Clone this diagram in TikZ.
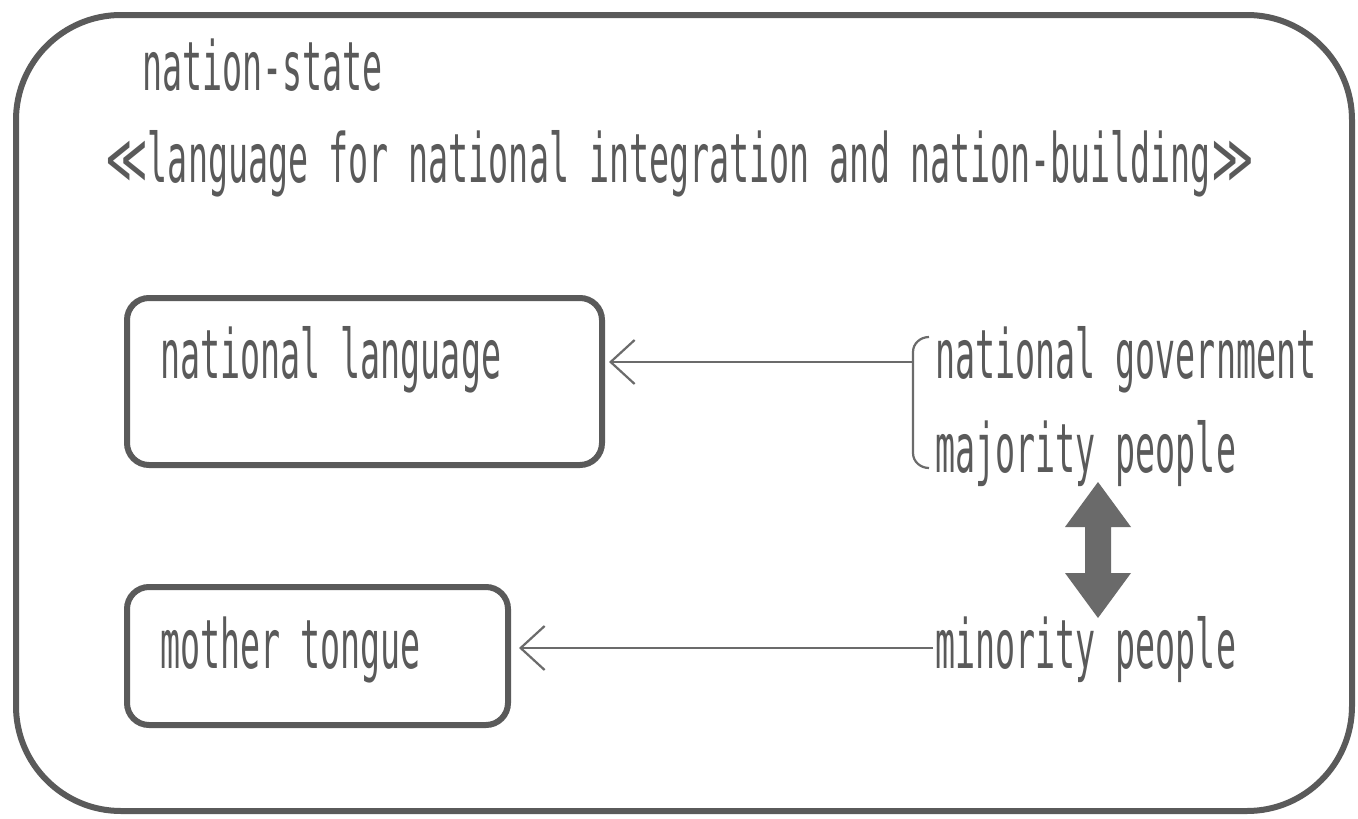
\documentclass[tikz,border=0pt]{standalone}
\usepackage{fontspec}
\setmainfont[FakeStretch=0.49]{DejaVu Sans Mono}
\newfontfamily\symfont[FakeStretch=0.6]{DejaVu Sans}
\usetikzlibrary{arrows.meta}
\definecolor{ink}{HTML}{5A5A5A}
\definecolor{arr}{HTML}{6A6A6A}
\tikzset{
  lbl/.style={anchor=base west, inner sep=0pt, text=ink, font=\fontsize{68}{80}\selectfont},
  box/.style={draw=ink, line width=6pt, rounded corners=22pt},
  conn/.style={draw=ink!90, line width=2.2pt, -{Straight Barb[length=24pt, width=44pt, line width=2.2pt]}},
}
\begin{document}
\begin{tikzpicture}[x=1pt, y=-1pt]
\useasboundingbox (0,0) rectangle (1358,819);
\fill[white] (0,0) rectangle (1358,819);
\draw[draw=ink, line width=6pt, rounded corners=105pt] (16,15) rectangle (1352,811);
\node[lbl] (ns) at (142,90) {nation-state};
\node[lbl] (lg) at (105,182) {{\symfont ≪}language for national integration and nation-building{\symfont ≫}};
\node[box, minimum width=475pt, minimum height=167pt] (nl) at (364.5,381.5) {};
\node[lbl] at (160,378) {national language};
\node[box, minimum width=381pt, minimum height=138pt] (mt) at (317.5,656) {};
\node[lbl] at (160,668) {mother tongue};
\node[lbl] (ng) at (935,378) {national government};
\node[lbl] (mp) at (935,472) {majority people};
\node[lbl] (mi) at (935,668) {minority people};
\coordinate (bj) at (913,362);
\coordinate (nlt) at (609,362);
\coordinate (mis) at (933,648);
\coordinate (mtt) at (519,648);
\draw[draw=ink!90, line width=2.2pt] (929,337) to[out=180,in=90] (913,352) -- (913,453) to[out=-90,in=180] (929,468);
\draw[conn] (bj) -- (nlt);
\draw[conn] (mis) -- (mtt);
\fill[arr] (1098,482) -- (1131,527) -- (1111,527) -- (1111,573) -- (1131,573) -- (1098,618) -- (1065,573) -- (1085,573) -- (1085,527) -- (1065,527) -- cycle;
\end{tikzpicture}
\end{document}
